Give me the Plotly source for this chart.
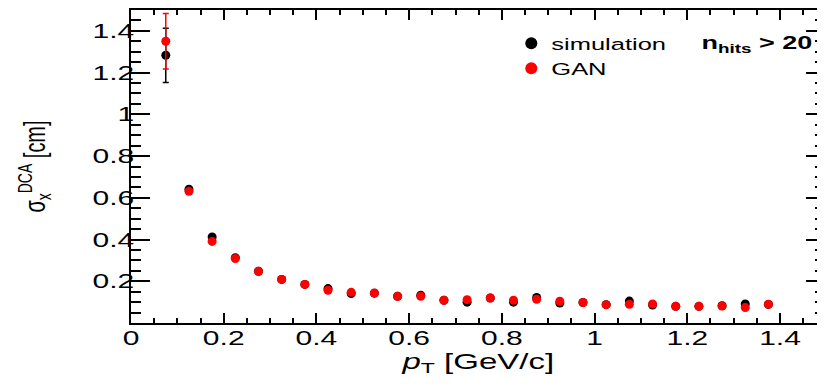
import plotly.graph_objects as go

# ---------------- data ----------------
pt = [0.075, 0.125, 0.175, 0.225, 0.275, 0.325, 0.375, 0.425, 0.475,
      0.525, 0.575, 0.625, 0.675, 0.725, 0.775, 0.825, 0.875, 0.925,
      0.975, 1.025, 1.075, 1.125, 1.175, 1.225, 1.275, 1.325, 1.375]

sim = [1.283, 0.641, 0.412, 0.313, 0.248, 0.209, 0.185, 0.165, 0.141,
       0.143, 0.128, 0.133, 0.109, 0.100, 0.120, 0.100, 0.122, 0.096,
       0.098, 0.088, 0.105, 0.086, 0.080, 0.080, 0.083, 0.091, 0.089]
sim_err = [0.13, 0.006, 0.004, 0.003, 0.003, 0.003, 0.003, 0.003, 0.003,
           0.003, 0.003, 0.003, 0.003, 0.003, 0.003, 0.003, 0.003, 0.003,
           0.003, 0.003, 0.003, 0.003, 0.003, 0.003, 0.003, 0.003, 0.003]

gan = [1.350, 0.631, 0.391, 0.309, 0.248, 0.209, 0.185, 0.157, 0.147,
       0.144, 0.128, 0.128, 0.109, 0.112, 0.120, 0.109, 0.114, 0.104,
       0.098, 0.088, 0.090, 0.091, 0.080, 0.080, 0.081, 0.074, 0.090]
gan_err = [0.133, 0.006, 0.004, 0.003, 0.003, 0.003, 0.003, 0.003, 0.003,
           0.003, 0.003, 0.003, 0.003, 0.003, 0.003, 0.003, 0.003, 0.003,
           0.003, 0.003, 0.003, 0.003, 0.003, 0.003, 0.003, 0.003, 0.003]

x_tick_vals = [0, 0.2, 0.4, 0.6, 0.8, 1.0, 1.2, 1.4]
x_tick_text = ["0", "0.2", "0.4", "0.6", "0.8", "1", "1.2", "1.4"]
y_tick_vals = [0.2, 0.4, 0.6, 0.8, 1.0, 1.2, 1.4]
y_tick_text = ["0.2", "0.4", "0.6", "0.8", "1", "1.2", "1.4"]

FONT = "Liberation Sans, Arial, Helvetica, sans-serif"

fig = go.Figure()
fig.add_trace(go.Scatter(
    x=pt, y=sim, mode="markers", name="simulation",
    marker=dict(color="black", size=9, symbol="circle"),
    error_y=dict(type="data", array=sim_err, color="black", thickness=1.5, width=3),
))
fig.add_trace(go.Scatter(
    x=pt, y=gan, mode="markers", name="GAN",
    marker=dict(color="#ff0000", size=9, symbol="circle"),
    error_y=dict(type="data", array=gan_err, color="#ff0000", thickness=1.5, width=3),
))

fig.add_annotation(
    text="<b>n<sub>hits</sub> > 20</b>", xref="paper", yref="paper",
    x=0.9025, y=0.891, xanchor="center", yanchor="middle", showarrow=False,
    font=dict(family=FONT, size=18, color="black"),
)

# The page body keeps its default 8px margin (left/top), so the figure is 8px
# smaller than the 825x386 window and the left/top margins are reduced by 8px.
fig.update_layout(
    width=817, height=378,
    margin=dict(l=123, r=0, t=2, b=63, autoexpand=False),
    paper_bgcolor="white", plot_bgcolor="white",
    font=dict(family=FONT, size=20, color="black"),
    showlegend=True,
    legend=dict(x=0.548, y=0.95, xanchor="left", yanchor="top",
                bgcolor="rgba(0,0,0,0)", font=dict(family=FONT, size=17),
                tracegroupgap=0, itemsizing="constant"),
    xaxis=dict(
        range=[0, 1.497], showgrid=False, zeroline=False, automargin=False,
        showline=True, linecolor="black", linewidth=1.5, mirror="ticks",
        ticks="inside", ticklen=10, tickwidth=1.5, tickcolor="black",
        tickmode="array", tickvals=x_tick_vals, ticktext=x_tick_text,
        minor=dict(dtick=0.05, tick0=0, ticks="inside", ticklen=5,
                   tickwidth=1.5, tickcolor="black", showgrid=False),
        tickfont=dict(family=FONT, size=20), ticklabelstandoff=-4,
        title=dict(text="<i>p</i><sub>T</sub> [GeV/c]",
                   font=dict(family=FONT, size=22), standoff=2),
    ),
    yaxis=dict(
        range=[0, 1.5], showgrid=False, zeroline=False, automargin=False,
        showline=True, linecolor="black", linewidth=1.5, mirror="ticks",
        ticks="inside", ticklen=19, tickwidth=1.5, tickcolor="black",
        tickmode="array", tickvals=y_tick_vals, ticktext=y_tick_text,
        minor=dict(dtick=0.05, tick0=0, ticks="inside", ticklen=10,
                   tickwidth=1.5, tickcolor="black", showgrid=False),
        tickfont=dict(family=FONT, size=20),
        title=dict(text="σ<sub>x</sub><sup>DCA</sup> [cm]",
                   font=dict(family=FONT, size=20), standoff=50),
    ),
)

# The reference picture is horizontally stretched; stretch every text the same way
# around its anchor point so that glyph widths match.  A MutationObserver
# re-applies it to any text that plotly redraws later.
stretch_js = """
var gd = document.getElementById('{plot_id}');
var S = 1.5;
var MARK = 'scale(' + S + ',1)';
var YSHIFT = 9;
function stretchOne(t){
  if (!t.textContent || !t.textContent.trim()) return;
  var orig = t.getAttribute('transform') || '';
  if (orig.indexOf(MARK) >= 0) return;
  var anchor = t.getAttribute('text-anchor') || window.getComputedStyle(t).textAnchor || 'start';
  var shift = t.closest('g.ytick') ? YSHIFT : 0;
  if (/rotate/.test(orig)) {
    var r = t.getBoundingClientRect();
    if (r.width === 0 && r.height === 0) return;
    var pm = t.parentNode.getScreenCTM();
    var a = ((r.left + r.right) / 2 - pm.e) / pm.a;
    t.setAttribute('transform', 'translate(' + a + ',0) ' + MARK + ' translate(' + (-a) + ',0) ' + orig);
  } else {
    var bb = t.getBBox();
    if (bb.width === 0 && bb.height === 0) return;
    var ax;
    if (anchor === 'middle') ax = bb.x + bb.width / 2;
    else if (anchor === 'end') ax = bb.x + bb.width;
    else ax = bb.x;
    t.setAttribute('transform', 'translate(' + shift + ',0) ' + orig +
      ' translate(' + ax + ',0) ' + MARK + ' translate(' + (-ax) + ',0)');
  }
}
function pass(){
  gd.querySelectorAll('.legend [clip-path], .legend[clip-path]').forEach(function(e){
    e.removeAttribute('clip-path');
  });
  gd.querySelectorAll('text').forEach(function(t){
    try { stretchOne(t); } catch (e) {}
  });
}
pass();
var pending = false;
var obs = new MutationObserver(function(){
  if (pending) return;
  pending = true;
  setTimeout(function(){ pending = false; pass(); }, 0);
});
obs.observe(gd, {subtree: true, childList: true, characterData: true,
                 attributes: true, attributeFilter: ['transform', 'x', 'y', 'text-anchor', 'style']});
setTimeout(pass, 50);
setTimeout(pass, 300);
setTimeout(pass, 1000);
"""

fig.write_html("out.html", post_script=stretch_js,
               config={"displayModeBar": False})
